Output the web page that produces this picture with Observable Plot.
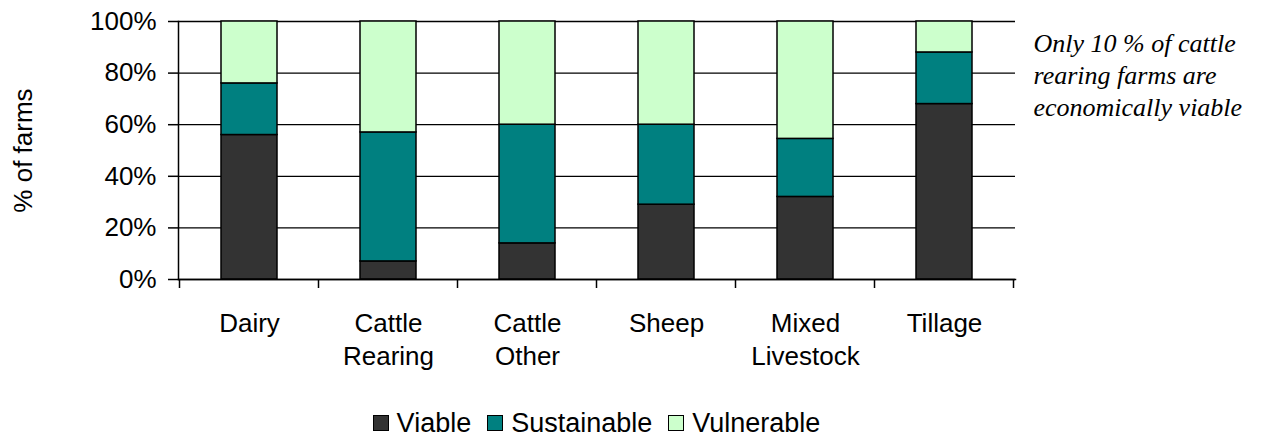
<!DOCTYPE html>
<html>
<head>
<meta charset="utf-8">
<script src="https://cdn.jsdelivr.net/npm/d3@7"></script>
<script src="https://cdn.jsdelivr.net/npm/@observablehq/plot@0.6"></script>
<style>
  html, body { margin: 0; padding: 0; background: #fff; }
  #wrap { position: relative; width: 1262px; height: 436px; font-family: "Liberation Sans", Arial, sans-serif; }
  #legend { position: absolute; left: 178px; width: 837px; top: 408px; display: flex; justify-content: center; align-items: center; font-size: 27px; line-height: 30px; color: #000; }
  #legend .item { display: flex; align-items: center; margin: 0 8px; }
  #legend .sw { width: 14px; height: 14px; border: 1.5px solid #000; margin-right: 8px; }
</style>
</head>
<body>
<div id="wrap"><div id="chart"></div><div id="legend"></div></div>
<script>
const categories = ["Dairy", "Cattle Rearing", "Cattle Other", "Sheep", "Mixed Livestock", "Tillage"];
const tickLabels = ["Dairy", "Cattle\nRearing", "Cattle\nOther", "Sheep", "Mixed\nLivestock", "Tillage"];
const series = ["Viable", "Sustainable", "Vulnerable"];
const colors = ["#333333", "#008080", "#CCFFCC"];
const viable = [56, 7, 14, 29, 32, 68];
const sustainable = [20, 50, 46, 31, 22.5, 20];
const vulnerable = [24, 43, 40, 40, 45.5, 12];
const yTicks = [0, 20, 40, 60, 80, 100];
const yLabel = "% of farms";
const note = "Only 10 % of cattle\nrearing farms are\neconomically viable";

const values = [viable, sustainable, vulnerable];
const data = [];
series.forEach((s, si) => categories.forEach((c, ci) => data.push({category: c, series: s, value: values[si][ci]})));

const labelOf = new Map(categories.map((c, i) => [c, tickLabels[i]]));

// ticks at category boundaries on the x axis
function boundaryTicks(index, scales, values, dimensions) {
  const x = scales.x;
  const bw = typeof x.bandwidth === "function" ? x.bandwidth() : (x.bandwidth || 0);
  const step = x(categories[1]) - x(categories[0]);
  const y0 = dimensions.height - dimensions.marginBottom;
  const g = d3.create("svg:g").attr("stroke", "black").attr("stroke-width", 1.5);
  const edges = categories.map(c => x(c) + bw / 2 - step / 2);
  edges.push(x(categories[categories.length - 1]) + bw / 2 + step / 2);
  for (const e of edges) {
    g.append("line").attr("x1", e).attr("x2", e).attr("y1", y0).attr("y2", y0 + 9);
  }
  return g.node();
}

const chart = Plot.plot({
  width: 1262,
  height: 400,
  marginLeft: 178,
  marginRight: 247,
  marginTop: 21,
  marginBottom: 121,
  style: {fontFamily: "'Liberation Sans', Arial, sans-serif", fontSize: "26px", color: "#000", background: "white"},
  x: {domain: categories, paddingInner: 0.6, paddingOuter: 0.3, align: 0.5},
  y: {domain: [0, 100]},
  color: {domain: series, range: colors},
  marks: [
    Plot.gridY(yTicks, {stroke: "black", strokeOpacity: 1, strokeWidth: 1.3}),
    Plot.barY(data, {x: "category", y: "value", fill: "series", stroke: "black", strokeWidth: 1.5}),
    Plot.frame({anchor: "left", stroke: "black", strokeWidth: 1.5}),
    Plot.frame({anchor: "bottom", stroke: "black", strokeWidth: 1.5}),
    Plot.axisY({ticks: yTicks, tickFormat: d => d + "%", tickSize: 10, tickPadding: 12, fontSize: 26, label: null, stroke: "black", strokeWidth: 1.5}),
    Plot.axisX({tickSize: 0, tickPadding: 29, tickFormat: d => labelOf.get(d), fontSize: 26, lineHeight: 1.27, label: null}),
    boundaryTicks,
    Plot.text([yLabel], {frameAnchor: "left", textAnchor: "middle", rotate: -90, dx: -155, fontSize: 26, fill: "black"}),
    Plot.text([note], {frameAnchor: "top-right", dx: 18, dy: 8, textAnchor: "start", lineAnchor: "top", fontSize: 26, fontStyle: "italic", fontFamily: "'Liberation Serif', 'Times New Roman', serif", lineHeight: 1.23, fill: "black"})
  ]
});
document.getElementById("chart").appendChild(chart);

const legend = document.getElementById("legend");
series.forEach((s, i) => {
  const item = document.createElement("div");
  item.className = "item";
  const sw = document.createElement("div");
  sw.className = "sw";
  sw.style.background = colors[i];
  const t = document.createElement("span");
  t.textContent = s;
  item.appendChild(sw);
  item.appendChild(t);
  legend.appendChild(item);
});
</script>
</body>
</html>
